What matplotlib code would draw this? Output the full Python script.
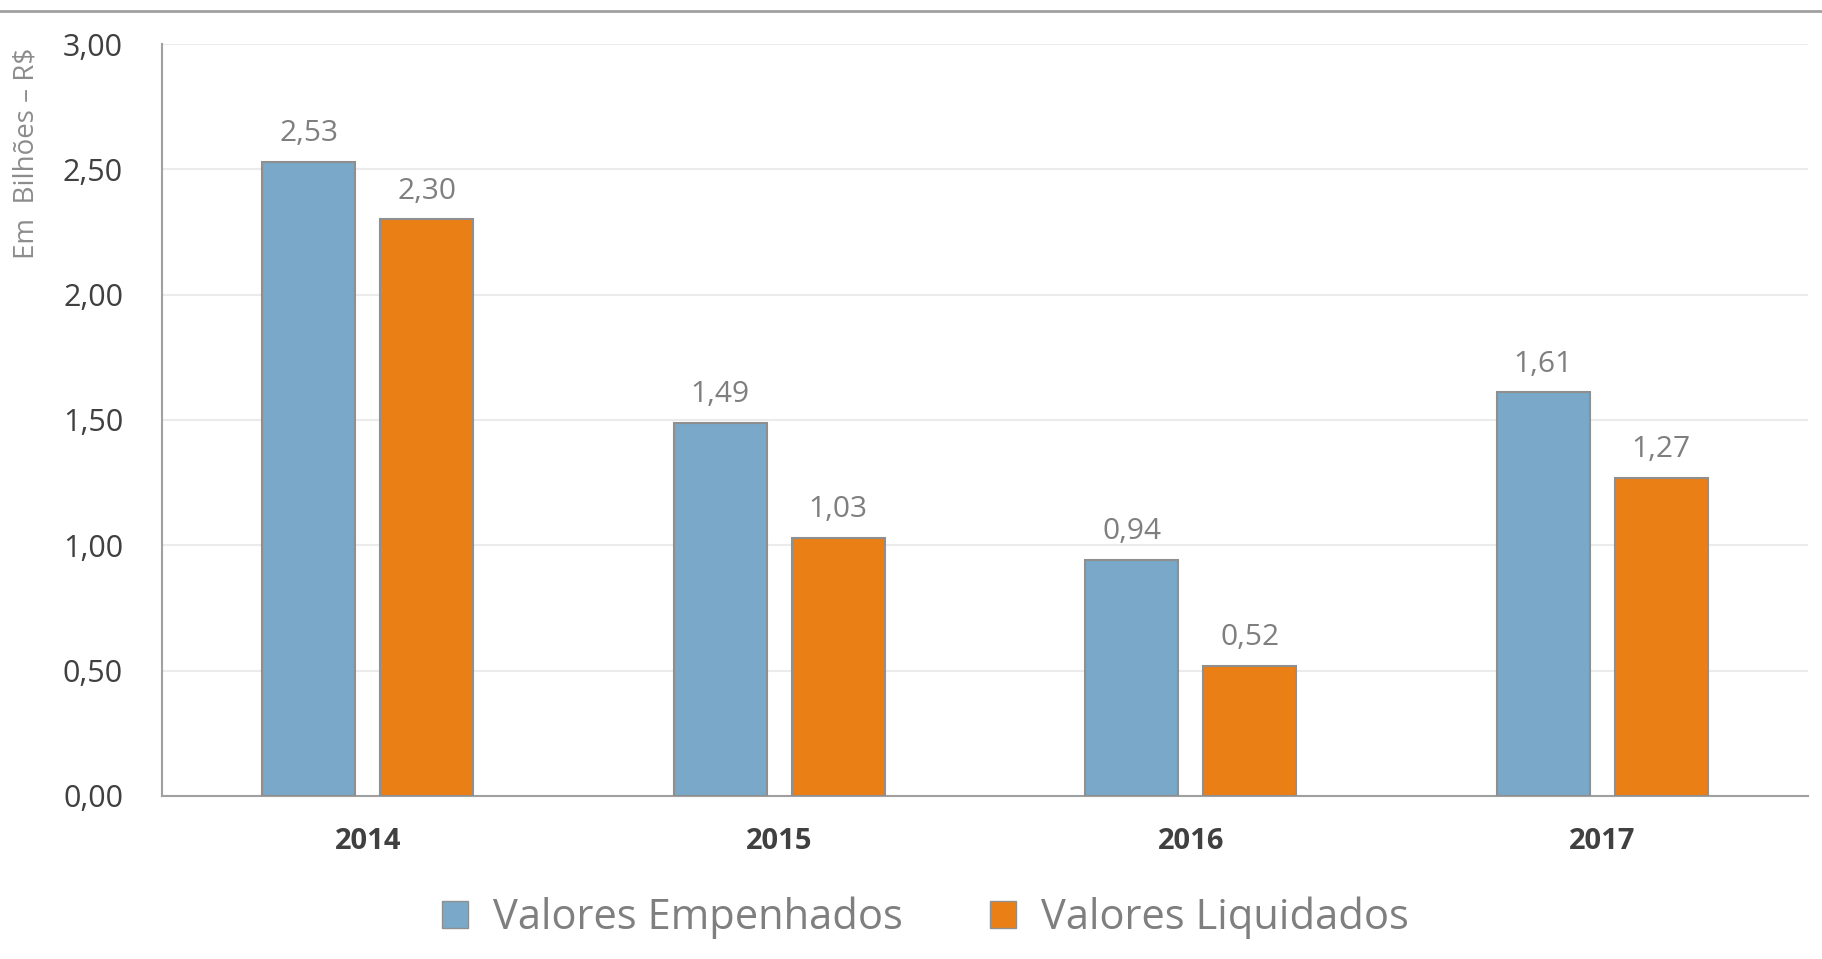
import numpy as np
import matplotlib
matplotlib.use("Agg")
import matplotlib.pyplot as plt
from matplotlib.lines import Line2D

# data
years = ['2014', '2015', '2016', '2017']
empenhados = [2.53, 1.49, 0.94, 1.61]
liquidados = [2.30, 1.03, 0.52, 1.27]
series_names = ['Valores Empenhados', 'Valores Liquidados']
y_ticks = [0.0, 0.5, 1.0, 1.5, 2.0, 2.5, 3.0]

blue = '#7AA8C8'
orange = '#EA7F16'
edge = '#8F8F8F'

plt.rcParams['font.family'] = ['Open Sans', 'DejaVu Sans']

fig = plt.figure(figsize=(18.22, 9.59), dpi=100)
ax = fig.add_axes([0.0889, 0.1700, 0.9034, 0.7841])

x = np.arange(len(years))
w = 0.226
off = 0.143
b1 = ax.bar(x - off, empenhados, w, color=blue, edgecolor=edge, linewidth=1.5,
            label=series_names[0], zorder=3)
b2 = ax.bar(x + off, liquidados, w, color=orange, edgecolor=edge, linewidth=1.5,
            label=series_names[1], zorder=3)

# value labels above bars, with comma decimals
for bars, vals in [(b1, empenhados), (b2, liquidados)]:
    for rect, v in zip(bars, vals):
        ax.annotate(f'{v:.2f}'.replace('.', ','),
                    (rect.get_x() + rect.get_width() / 2, v),
                    xytext=(0, 10), textcoords='offset points',
                    ha='center', va='bottom', fontsize=21.5, color='#7F7F7F')

ax.set_xlim(-0.5, 3.5)
ax.set_ylim(0, 3.0)
ax.set_yticks(y_ticks)
ax.set_yticklabels([f'{t:.2f}'.replace('.', ',') for t in y_ticks])
ax.set_xticks(x)
ax.set_xticklabels(years, fontweight='bold')

ax.tick_params(axis='y', length=0, pad=28, labelsize=22, labelcolor='#404040')
ax.tick_params(axis='x', length=0, pad=22, labelsize=21, labelcolor='#404040')

ax.grid(axis='y', color='#EBEBEB', linewidth=1.5, zorder=0)
for s in ['top', 'right']:
    ax.spines[s].set_visible(False)
ax.spines['left'].set_color('#A0A0A0')
ax.spines['left'].set_linewidth(1.5)
ax.spines['bottom'].set_color('#A0A0A0')
ax.spines['bottom'].set_linewidth(1.5)

fig.text(27 / 1822, 1 - 153 / 959, 'Em  Bilhões – R$', rotation=90,
         ha='center', va='center', fontsize=20, color='#8C8C8C')

# thin rule across the top of the figure
fig.add_artist(Line2D([0, 1], [1 - 11 / 959, 1 - 11 / 959], color='#A0A0A0',
                      linewidth=2, transform=fig.transFigure))

handles = [plt.Rectangle((0, 0), 1, 1, facecolor=blue, edgecolor=edge),
           plt.Rectangle((0, 0), 1, 1, facecolor=orange, edgecolor=edge)]
fig.legend(handles, series_names, loc='center', bbox_to_anchor=(0.508, 1 - 918 / 959),
           ncol=2, frameon=False, fontsize=30, labelcolor='#7F7F7F',
           handlelength=0.62, handleheight=0.62, handletextpad=0.6, columnspacing=2.1)

fig.savefig('out.png', dpi=100)
